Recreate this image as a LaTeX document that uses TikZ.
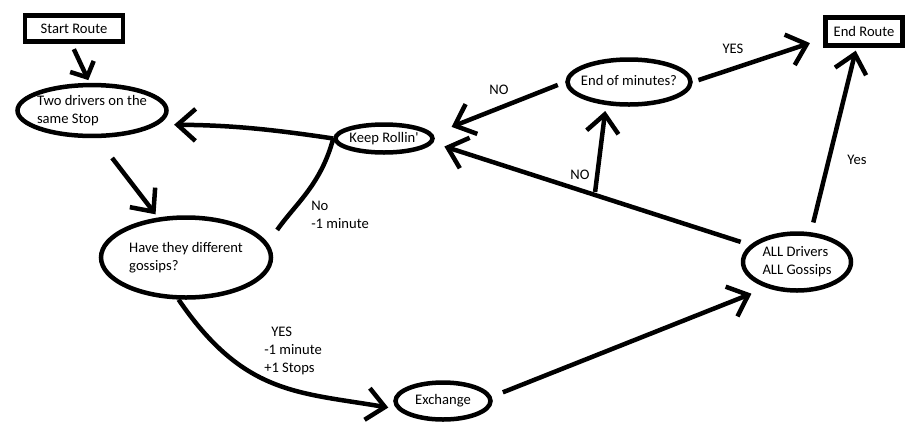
\documentclass[tikz,border=0pt]{standalone}
\usepackage{fontspec}
\setmainfont{Carlito}
\usetikzlibrary{shapes.geometric,arrows.meta}
\newcommand{\ovaltext}[1]{\makebox[0pt]{\begin{tabular}{@{}l@{}}#1\end{tabular}}}
\begin{document}
\begin{tikzpicture}[x=1pt,y=1pt,line width=4.5pt,
    >={Straight Barb[length=18pt,width=32pt]},
    every node/.style={font=\fontsize{14.6}{18}\selectfont},
    box/.style={draw,rectangle,inner sep=3pt},
    oval/.style={draw,ellipse,inner sep=0pt},
    lbl/.style={inner sep=0pt,align=left}]
  \useasboundingbox (0,0) rectangle (915,-440);
  \draw
    (74,-28.5) node[box,minimum width=98pt,minimum height=26pt] (start){Start Route}
    (864,-31.5) node[box,minimum width=77pt,minimum height=28pt] (end){End Route}
    (92,-110.5) node[oval,minimum width=149pt,minimum height=50pt] (two){\ovaltext{Two drivers on the\\same Stop}}
    (384,-138.5) node[oval,minimum width=97pt,minimum height=28pt] (keep){\ovaltext{Keep Rollin\textquotesingle}}
    (186,-257.5) node[oval,minimum width=170pt,minimum height=80pt] (have){\ovaltext{Have they different\\gossips?}}
    (443,-401) node[oval,minimum width=95pt,minimum height=37pt] (exch){\ovaltext{Exchange}}
    (797,-262) node[oval,minimum width=108pt,minimum height=57pt] (all){\ovaltext{ALL Drivers\\ALL Gossips}}
    (629,-82) node[oval,minimum width=123pt,minimum height=45pt] (endmin){\ovaltext{End of minutes?}}
    (309,-199) node[lbl,anchor=north west] (nomin){No\\-1 minute}
    (262,-325) node[lbl,anchor=north west] (yesmin){\hspace*{7pt}YES\\-1 minute\\+1 Stops}
    (499,-90) node[lbl] (nokeep){NO}
    (580,-175) node[lbl] (nofork){NO}
    (733,-49) node[lbl] (yesend){YES}
    (857,-160) node[lbl] (yesall){Yes};
  \begin{scope}[->]
    \draw[-{Straight Barb[length=12pt,width=26pt]},shorten <=6pt,shorten >=3pt] (start.-100) to (two.95);
    \draw[-,shorten <=16pt] (have.10) to[out=55,in=-105] (keep.west);
    \draw[shorten >=16pt] (keep.west) to[bend right=4] (two.-12);
    \draw[shorten <=25pt,shorten >=4pt] (two.-80) to (have.125);
    \draw[shorten >=9pt] (have.-100) .. controls +(65,-95) and +(-100,17) .. (exch.190);
    \draw[shorten <=12pt,shorten >=16pt] (exch.5) to (all.-140);
    \draw[shorten <=10pt,shorten >=12pt] (all.160) to coordinate[pos=0.49] (fork) (keep.-5);
    \draw[shorten <=3pt,shorten >=6pt] (fork) to (endmin.-135);
    \draw[shorten <=8pt,shorten >=20pt] (endmin.west) to (keep.5);
    \draw[shorten <=6pt,shorten >=14pt] (endmin.east) to (end.190);
    \draw[shorten <=10pt,shorten >=3pt] (all.65) to (end.-115);
  \end{scope}
\end{tikzpicture}
\end{document}
